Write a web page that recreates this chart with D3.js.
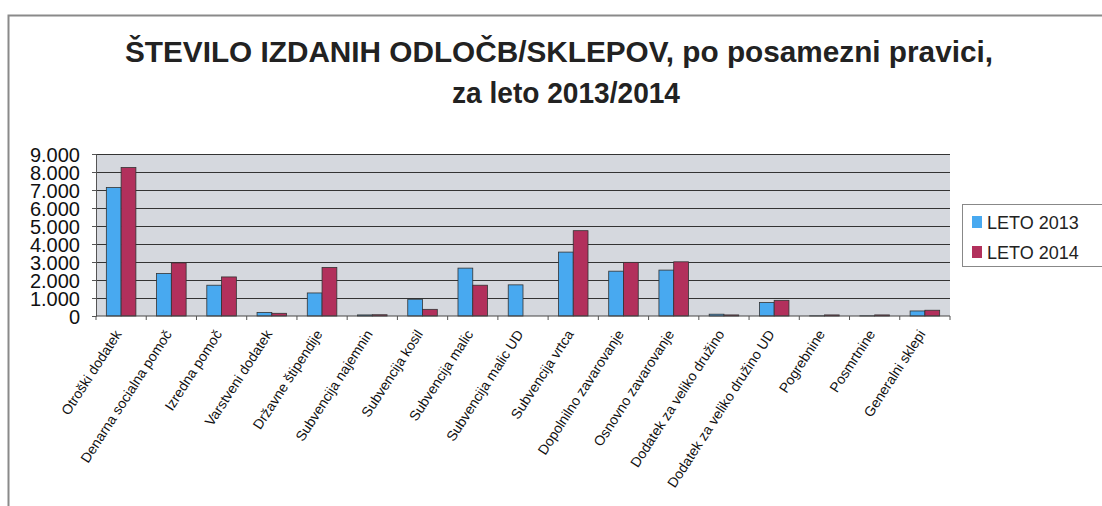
<!DOCTYPE html>
<html>
<head>
<meta charset="utf-8">
<script src="https://cdn.jsdelivr.net/npm/d3@7"></script>
<style>
body { margin: 0; background: #fff; }
svg { display: block; font-family: "Liberation Sans", Arial, sans-serif; }
</style>
</head>
<body>
<svg id="chart" width="1102" height="506"></svg>
<script>
// kategorije in vrednosti (ocenjeno iz slike)
var categories = ["Otroški dodatek", "Denarna socialna pomoč", "Izredna pomoč", "Varstveni dodatek",
	"Državne štipendije", "Subvencija najemnin", "Subvencija kosil", "Subvencija malic",
	"Subvencija malic UD", "Subvencija vrtca", "Dopolnilno zavarovanje", "Osnovno zavarovanje",
	"Dodatek za veliko družino", "Dodatek za veliko družino UD", "Pogrebnine", "Posmrtnine", "Generalni sklepi"];
var leto2013 = [7140, 2360, 1710, 200, 1280, 60, 930, 2660, 1730, 3550, 2490, 2550, 100, 750, 10, 10, 280];
var leto2014 = [8250, 2950, 2170, 150, 2700, 70, 370, 1710, 0, 4740, 2980, 3010, 60, 870, 60, 60, 320];
var seriesNames = ["LETO 2013", "LETO 2014"];
var yTicks = [0, 1000, 2000, 3000, 4000, 5000, 6000, 7000, 8000, 9000];

var colors = ["#48a9f0", "#b2305c"];
var svg = d3.select("#chart");

// okvir
svg.append("path")
	.attr("d", "M8.5,506 L8.5,15.5 L1102,15.5")
	.attr("fill", "none").attr("stroke", "#8a8a8a").attr("stroke-width", 2);

// naslov
var title = svg.append("text")
	.attr("text-anchor", "middle")
	.attr("font-weight", "bold")
	.attr("font-size", 29)
	.attr("fill", "#222");
title.append("tspan").attr("x", 559).attr("y", 62)
	.attr("textLength", 868).attr("lengthAdjust", "spacingAndGlyphs")
	.text("ŠTEVILO IZDANIH ODLOČB/SKLEPOV, po posamezni pravici,");
var t2 = svg.append("text")
	.attr("text-anchor", "middle")
	.attr("font-weight", "bold")
	.attr("font-size", 29)
	.attr("fill", "#222")
	.attr("x", 566).attr("y", 103)
	.attr("textLength", 228).attr("lengthAdjust", "spacingAndGlyphs")
	.text("za leto 2013/2014");

var mLeft = 96, mRight = 950, mTop = 154, mBottom = 316;

var x = d3.scaleBand().domain(categories).range([mLeft, mRight]).paddingInner(0).paddingOuter(0);
var x1 = d3.scaleBand().domain(seriesNames).range([0, x.bandwidth()]).paddingInner(0).paddingOuter(0.7);
var y = d3.scaleLinear().domain([0, 9000]).range([mBottom, mTop]);

// ozadje
svg.append("rect").attr("x", mLeft).attr("y", mTop).attr("width", mRight - mLeft).attr("height", mBottom - mTop)
	.attr("fill", "#d5d8de");

// mreža
svg.append("g").selectAll("line").data(yTicks.slice(1)).enter().append("line")
	.attr("x1", mLeft).attr("x2", mRight)
	.attr("y1", d => Math.round(y(d)) + 0.5).attr("y2", d => Math.round(y(d)) + 0.5)
	.attr("stroke", "#333").attr("stroke-width", 1);

// stolpci
var rows = categories.map((c, i) => ({ cat: c, vals: [leto2013[i], leto2014[i]] }));
var grp = svg.append("g").selectAll("g").data(rows).enter().append("g")
	.attr("transform", d => "translate(" + x(d.cat) + ",0)");
grp.selectAll("rect").data(d => d.vals.map((v, j) => ({ v: v, s: seriesNames[j], j: j }))).enter()
	.append("rect")
	.attr("x", d => x1(d.s))
	.attr("y", d => y(d.v))
	.attr("width", x1.bandwidth())
	.attr("height", d => y(0) - y(d.v))
	.attr("fill", d => colors[d.j])
	.attr("stroke", "#333")
	.attr("stroke-width", 0.8);

// osi
var yAxis = d3.axisLeft(y).tickValues(yTicks).tickSize(4)
	.tickFormat(d => d3.format(",")(d).replace(/,/g, "."));
var gy = svg.append("g").attr("transform", "translate(" + mLeft + ",0)").call(yAxis);
gy.select(".domain").attr("stroke", "#555");
gy.selectAll(".tick line").attr("stroke", "#555");
gy.selectAll(".tick text")
	.attr("x", -16)
	.attr("dy", "0.36em")
	.attr("font-size", 20)
	.attr("fill", "#111")
	.attr("font-family", "Liberation Sans, Arial, sans-serif");

var gx = svg.append("g").attr("transform", "translate(0," + mBottom + ")");
gx.append("line").attr("x1", mLeft).attr("x2", mRight).attr("stroke", "#444");
gx.selectAll("line.t").data(categories.concat([null])).enter().append("line")
	.attr("class", "t")
	.attr("x1", (d, i) => mLeft + i * x.bandwidth()).attr("x2", (d, i) => mLeft + i * x.bandwidth())
	.attr("y1", 0).attr("y2", 4).attr("stroke", "#555");
gx.selectAll("text").data(categories).enter().append("text")
	.attr("transform", d => "translate(" + (x(d) + x.bandwidth() / 2 + 1) + ",18) rotate(-57)")
	.attr("text-anchor", "end")
	.attr("font-size", 14)
	.attr("fill", "#111")
	.text(d => d);

// legenda
var lg = svg.append("g").attr("transform", "translate(962,204)");
lg.append("rect").attr("x", 0.5).attr("y", 0.5).attr("width", 150).attr("height", 62)
	.attr("fill", "#fff").attr("stroke", "#888");
seriesNames.forEach((s, i) => {
	lg.append("rect").attr("x", 10).attr("y", 12 + i * 30).attr("width", 10).attr("height", 12)
		.attr("fill", colors[i]);
	lg.append("text").attr("x", 25).attr("y", 25 + i * 30).attr("font-size", 18).attr("fill", "#222").text(s);
});
</script>
</body>
</html>
